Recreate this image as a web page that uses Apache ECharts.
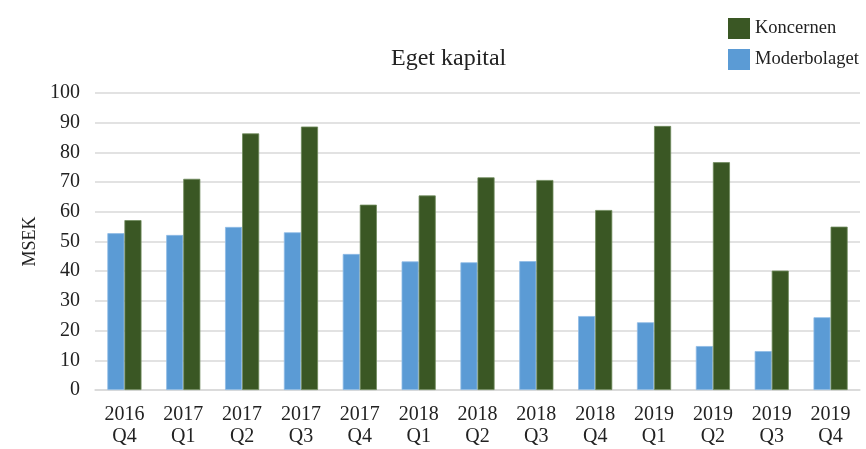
<!DOCTYPE html>
<html><head><meta charset="utf-8">
<script src="https://cdn.jsdelivr.net/npm/echarts@6/dist/echarts.min.js"></script>
<style>html,body{margin:0;padding:0;background:#fff}#c{width:866px;height:449px}</style>
</head><body><div id="c"></div>
<script>
const categories = ['2016\nQ4','2017\nQ1','2017\nQ2','2017\nQ3','2017\nQ4','2018\nQ1','2018\nQ2','2018\nQ3','2018\nQ4','2019\nQ1','2019\nQ2','2019\nQ3','2019\nQ4'];
const moderbolaget = [52.8, 52.2, 54.9, 53.1, 45.8, 43.3, 43.0, 43.4, 24.9, 22.8, 14.8, 13.1, 24.5];
const koncernen = [57.2, 71.1, 86.4, 88.7, 62.4, 65.5, 71.6, 70.7, 60.6, 88.9, 76.7, 40.2, 55.0];
const FONT = '"Liberation Serif", "DejaVu Serif", serif';
const chart = echarts.init(document.getElementById('c'));
chart.setOption({
  animation: false,
  textStyle: {fontFamily: FONT},
  title: {text: 'Eget kapital', left: 386, top: 42, textStyle: {fontFamily: FONT, fontSize: 24, fontWeight: 'normal', color: '#222'}},
  legend: {
    orient: 'vertical', left: 723, top: 13, itemWidth: 22, itemHeight: 21, itemGap: 10,
    icon: 'rect',
    itemStyle: {borderWidth: 0},
    textStyle: {fontFamily: FONT, fontSize: 18.5, color: '#222'},
    data: ['Koncernen', 'Moderbolaget']
  },
  grid: {left: 95, right: 6, top: 93, bottom: 59},
  xAxis: {
    type: 'category', data: categories,
    axisLine: {lineStyle: {color: '#d9d9d9', width: 1.5}},
    axisTick: {show: false},
    axisLabel: {fontFamily: FONT, fontSize: 20, color: '#222', lineHeight: 22, margin: 14, interval: 0}
  },
  yAxis: {
    type: 'value', min: 0, max: 100, interval: 10,
    name: 'MSEK', nameLocation: 'middle', nameGap: 55, nameRotate: 90,
    nameTextStyle: {fontFamily: FONT, fontSize: 18, color: '#222'},
    axisLine: {show: false}, axisTick: {show: false},
    axisLabel: {fontFamily: FONT, fontSize: 20, color: '#222', margin: 15},
    splitLine: {lineStyle: {color: '#d9d9d9', width: 1.5}}
  },
  series: [
    {name: 'Moderbolaget', type: 'bar', data: moderbolaget, barGap: '0%', barCategoryGap: '42%',
     itemStyle: {color: '#5B9BD5', borderColor: '#8fbbe6', borderWidth: 0.8}},
    {name: 'Koncernen', type: 'bar', data: koncernen, barGap: '0%', barCategoryGap: '42%',
     itemStyle: {color: '#3A5724', borderColor: '#6e8a5c', borderWidth: 0.8}}
  ]
});
</script></body></html>
